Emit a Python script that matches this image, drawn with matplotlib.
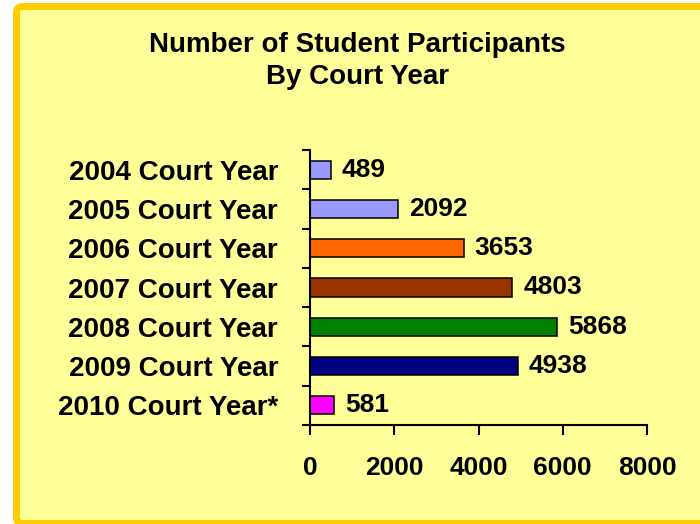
import matplotlib
matplotlib.use("Agg")
import matplotlib.pyplot as plt
from matplotlib.patches import FancyBboxPatch

# data
years = ["2004 Court Year", "2005 Court Year", "2006 Court Year", "2007 Court Year",
         "2008 Court Year", "2009 Court Year", "2010 Court Year*"]
participants = [489, 2092, 3653, 4803, 5868, 4938, 581]
bar_colors = ["#9999FF", "#9999FF", "#FF6600", "#993300", "#008000", "#000080", "#FF00FF"]
x_ticks = [0, 2000, 4000, 6000, 8000]

plt.rcParams['font.family'] = ['Liberation Sans', 'DejaVu Sans']
plt.rcParams['font.weight'] = 'bold'

fig = plt.figure(figsize=(7, 5.24), dpi=100)
fig.patch.set_facecolor("white")

W, H = 700, 524
# yellow panel with orange-gold border (right/bottom run off the picture)
panel = FancyBboxPatch((16.5 / W, 0.5 / H), 1.2, (H - 6.5 - 0.5) / H,
                       boxstyle="round,pad=0,rounding_size=0.01",
                       transform=fig.transFigure, facecolor="#FFFF99",
                       edgecolor="#FFCC00", linewidth=5, zorder=-5)
fig.patches.append(panel)

fig.text(357 / W, 1 - 45 / H, "Number of Student Participants", ha="center", va="center",
         fontsize=20, fontweight="bold")
fig.text(357 / W, 1 - 77 / H, "By Court Year", ha="center", va="center",
         fontsize=20, fontweight="bold")

ax = fig.add_axes([310 / W, 1 - 425 / H, 337 / W, 275 / H])
ax.set_facecolor("none")
ax.set_zorder(2)

pos = list(range(len(years)))
ax.barh(pos, participants, height=0.46, color=bar_colors, edgecolor="black", linewidth=1.1)
for p, v in zip(pos, participants):
    ax.text(v + 260, p, str(v), va="center", ha="left", fontsize=19, fontweight="bold")

ax.set_xlim(0, 8000)
ax.set_ylim(len(years) - 0.5, -0.5)

ax.set_xticks(x_ticks)
ax.set_xticklabels([str(t) for t in x_ticks], fontsize=19, fontweight="bold")
ax.tick_params(axis="x", direction="out", length=7, width=1.5, pad=15)

# boundary ticks on y, labels at centers
ax.set_yticks([p - 0.5 for p in pos] + [len(years) - 0.5])
ax.set_yticklabels([])
ax.tick_params(axis="y", which="major", direction="out", length=6, width=1.5)
ax.set_yticks(pos, minor=True)
ax.set_yticklabels(years, minor=True, fontsize=20, fontweight="bold")
ax.tick_params(axis="y", which="minor", length=0, pad=23)

for s in ["top", "right"]:
    ax.spines[s].set_visible(False)
for s in ["left", "bottom"]:
    ax.spines[s].set_linewidth(1.5)

fig.savefig("out.png", dpi=100)
